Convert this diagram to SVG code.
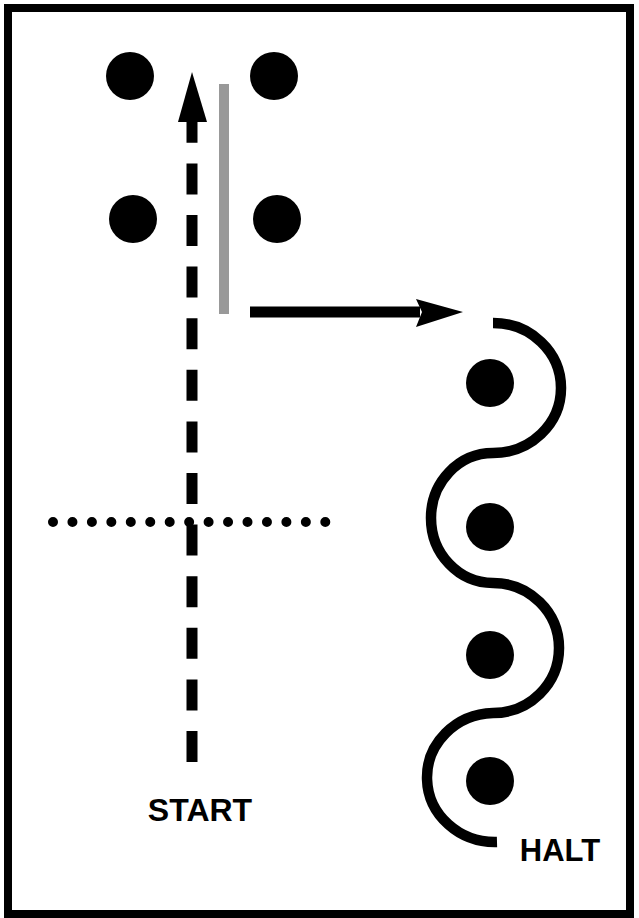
<svg xmlns="http://www.w3.org/2000/svg" width="639" height="918" viewBox="0 0 639 918">
<style>
.dot{fill:#000}
.lbl{font-family:"Liberation Sans",Arial,sans-serif;font-weight:bold;fill:#000}
</style>
<rect x="0" y="0" width="639" height="918" fill="#fff"/>
<rect id="frame" x="8" y="8" width="622" height="906" fill="none" stroke="#000" stroke-width="8"/>
<g id="cones-top">
<circle class="dot" cx="130" cy="76" r="24"/>
<circle class="dot" cx="274" cy="76" r="24"/>
<circle class="dot" cx="133" cy="219" r="24"/>
<circle class="dot" cx="277" cy="219" r="24"/>
</g>
<g id="cones-serpentine">
<circle class="dot" cx="490" cy="383" r="24"/>
<circle class="dot" cx="490" cy="527" r="24"/>
<circle class="dot" cx="490" cy="655" r="24"/>
<circle class="dot" cx="490" cy="781" r="24"/>
</g>
<g id="line-dotted">
<line x1="53" y1="522" x2="330" y2="522" stroke="#000" stroke-width="10" stroke-linecap="round" stroke-dasharray="0 19.45"/>
</g>
<g id="barrier">
<line x1="224" y1="84" x2="224" y2="314" stroke="#999" stroke-width="10"/>
</g>
<g id="connectors">
<line x1="192" y1="762" x2="192" y2="122" stroke="#000" stroke-width="11" stroke-dasharray="31 20.6"/>
<polygon points="192,72 178,122 207,122" fill="#000"/>
<line x1="250" y1="312" x2="420" y2="312" stroke="#000" stroke-width="11"/>
<polygon points="463,312 416,299 422,312 416,327" fill="#000"/>
<path d="M493,323 A68,65 0 0 1 493,453 A62,65 0 0 0 493,583 A66,65 0 0 1 493,713 A68,64.5 0 0 0 497,842" fill="none" stroke="#000" stroke-width="10.5"/>
</g>
<g id="labels">
<text class="lbl" x="200" y="821" font-size="32" text-anchor="middle">START</text>
<text class="lbl" x="560" y="861" font-size="31" text-anchor="middle">HALT</text>
</g>
</svg>
